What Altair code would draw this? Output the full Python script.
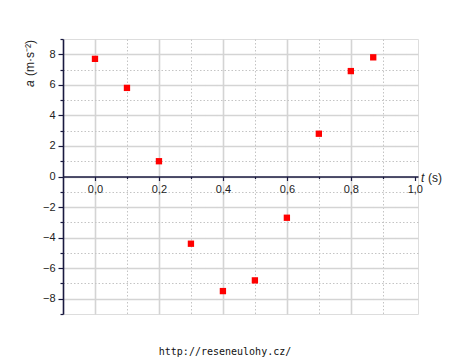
import altair as alt
import pandas as pd

# data
t_values = [0.0, 0.1, 0.2, 0.3, 0.4, 0.5, 0.6, 0.7, 0.8, 0.87]
a_values = [7.7, 5.8, 1.0, -4.4, -7.5, -6.8, -2.7, 2.8, 6.9, 7.8]
x_ticks = [0.0, 0.1, 0.2, 0.3, 0.4, 0.5, 0.6, 0.7, 0.8, 0.9, 1.0]
y_ticks = [-9, -8, -7, -6, -5, -4, -3, -2, -1, 0, 1, 2, 3, 4, 5, 6, 7, 8, 9]
x_domain = [-0.1, 1.01]
y_domain = [-9, 9]
url_text = "http://reseneulohy.cz/"

df = pd.DataFrame({"t": t_values, "a": a_values})

AXIS_COLOR = "#1a1a40"
LABEL_COLOR = "#222222"
FONT = "Liberation Sans"

x_odd = "round(datum.value*10)%2==1"
y_odd = "abs(datum.value)%2==1"

x_axis = alt.Axis(
    values=x_ticks,
    orient="bottom",
    offset=-137.5,
    title=None,
    grid=True,
    gridColor={"condition": {"test": x_odd, "value": "#c4c4c4"}, "value": "#d4d4d4"},
    gridDash={"condition": {"test": x_odd, "value": [1.5, 2]}, "value": [1, 0]},
    gridWidth={"condition": {"test": x_odd, "value": 1}, "value": 1.6},
    gridOpacity={"condition": {"test": "datum.value>0.95", "value": 0}, "value": 1},
    domainColor=AXIS_COLOR,
    domainWidth=1.4,
    tickColor=AXIS_COLOR,
    tickWidth=1.2,
    tickSize={"condition": {"test": x_odd, "value": 2}, "value": 4},
    labelExpr="round(datum.value*10)%2==0 ? replace(format(datum.value,'.1f'),'.',',') : ''",
    labelFont=FONT,
    labelFontSize=11,
    labelColor=LABEL_COLOR,
    labelPadding=3,
    labelFlush=False,
    labelOverlap=False,
    labelBound=False,
)

y_axis = alt.Axis(
    values=y_ticks,
    orient="left",
    title=None,
    grid=True,
    gridColor={"condition": {"test": y_odd, "value": "#c4c4c4"}, "value": "#d4d4d4"},
    gridDash={"condition": {"test": y_odd, "value": [1.5, 2]}, "value": [1, 0]},
    gridWidth={"condition": {"test": y_odd, "value": 1}, "value": 1.6},
    gridOpacity={"condition": {"test": "abs(datum.value)==9", "value": 0}, "value": 1},
    domainColor=AXIS_COLOR,
    domainWidth=1.6,
    tickColor=AXIS_COLOR,
    tickWidth=1.2,
    tickSize={"condition": {"test": y_odd, "value": 3}, "value": 5},
    labelExpr="abs(datum.value)%2==0 && abs(datum.value)<9 ? datum.label : ''",
    labelFont=FONT,
    labelFontSize=11,
    labelColor=LABEL_COLOR,
    labelPadding=3,
    labelFlush=False,
    labelOverlap=False,
    labelBound=False,
)

points = alt.Chart(df).mark_square(size=40, color="#ff0000", opacity=1).encode(
    x=alt.X("t:Q", scale=alt.Scale(domain=x_domain, nice=False, zero=False), axis=x_axis),
    y=alt.Y("a:Q", scale=alt.Scale(domain=y_domain, nice=False, zero=False), axis=y_axis),
)


def label(text, x, y, **kw):
    return alt.Chart(pd.DataFrame({"s": [text]})).mark_text(**kw).encode(
        text="s:N", x=alt.value(x), y=alt.value(y)
    )


t_lbl = label("t", 358, 139, font=FONT, fontSize=12, fontStyle="italic",
              align="left", baseline="middle", color=LABEL_COLOR)
s_lbl = label("(s)", 365, 139, font=FONT, fontSize=12,
              align="left", baseline="middle", color=LABEL_COLOR)
a_lbl = label("a", -33, 48, font=FONT, fontSize=12, fontStyle="italic", angle=270,
              align="left", baseline="middle", color=LABEL_COLOR)
unit_lbl = label("(m·s⁻²)", -33, 37, font=FONT, fontSize=12, angle=270,
                 align="left", baseline="middle", color=LABEL_COLOR)
url_lbl = label(url_text, 162, 313, font="DejaVu Sans Mono", fontSize=10,
                align="center", baseline="middle", color="#111111")

chart = alt.layer(points, t_lbl, s_lbl, a_lbl, unit_lbl, url_lbl).properties(
    width=355,
    height=275,
    autosize=alt.AutoSizeParams(type="none"),
    padding={"left": 55, "top": 31, "right": 24, "bottom": 46},
).configure_view(stroke=None).configure(background="white")

chart.save("out.html", embed_options={"renderer": "svg", "actions": False})
